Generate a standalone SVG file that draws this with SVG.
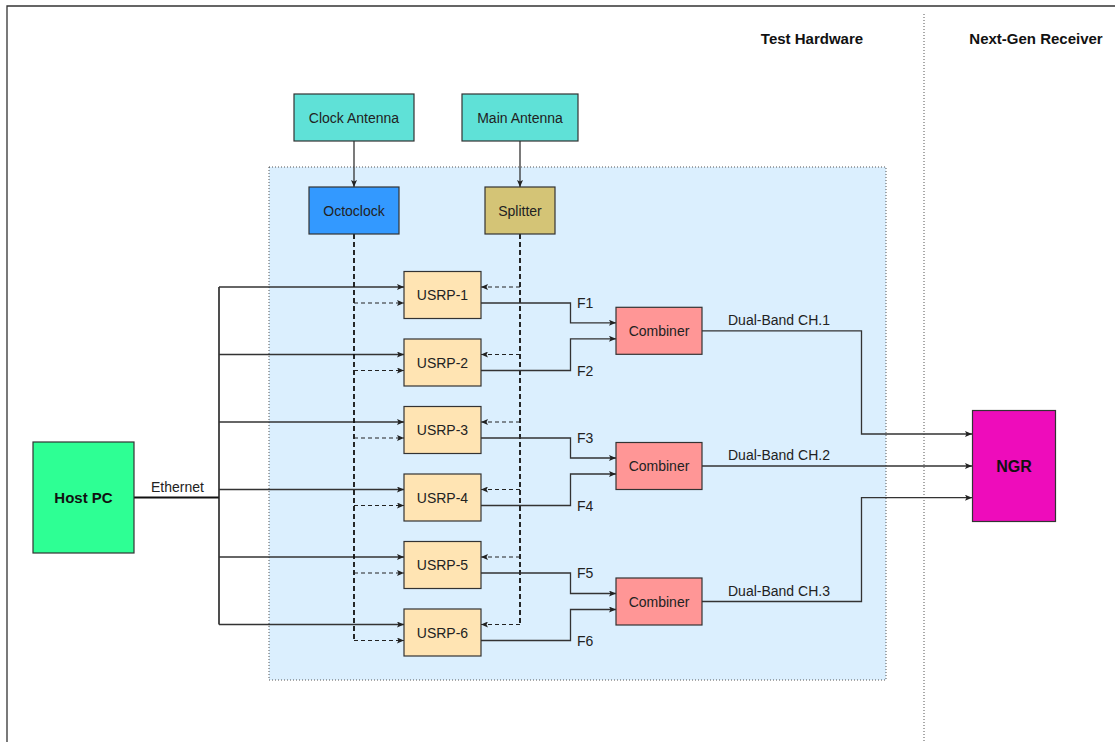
<svg xmlns="http://www.w3.org/2000/svg" width="1115" height="742" viewBox="0 0 1115 742">
<style>
.box{stroke:#333;stroke-width:1.2}
.t{font-family:"Liberation Sans",Arial,sans-serif;font-size:14px;fill:#222;text-anchor:middle}
.tl{font-family:"Liberation Sans",Arial,sans-serif;font-size:14px;fill:#222}
.b{font-family:"Liberation Sans",Arial,sans-serif;font-size:15px;font-weight:bold;fill:#111;text-anchor:middle}
.ln{fill:none;stroke:#333;stroke-width:1.3}
.ds{fill:none;stroke:#222;stroke-width:1.2;stroke-dasharray:4,3}
.dv{fill:none;stroke:#111;stroke-width:1.8;stroke-dasharray:5,3}
.dot{fill:none;stroke:#555;stroke-width:1;stroke-dasharray:1,2}
.region{fill:#dbeffe;stroke:#555;stroke-width:1;stroke-dasharray:1,2}
</style>
<defs>
<marker id="ar" markerUnits="userSpaceOnUse" markerWidth="8" markerHeight="6" refX="7" refY="3" orient="auto">
<path d="M0,0 L7,3 L0,6 L1.5,3 Z" fill="#222"/>
</marker>
</defs>
<rect width="1115" height="742" fill="#fff"/>
<path d="M7,742 L7,6 L1115,6" fill="none" stroke="#333" stroke-width="1.3"/>
<rect id="testbed" x="269" y="167" width="617" height="513" class="region"/>
<line x1="924" y1="14" x2="924" y2="742" class="dot"/>
<text class="b" x="812" y="44">Test Hardware</text>
<text class="b" x="1036" y="44">Next-Gen Receiver</text>

<g id="connectors">
<line class="ln" x1="354" y1="141" x2="354" y2="187" marker-end="url(#ar)"/>
<line class="ln" x1="520" y1="141" x2="520" y2="187" marker-end="url(#ar)"/>
<line x1="134" y1="497.5" x2="219" y2="497.5" stroke="#111" stroke-width="2"/>
<line x1="219" y1="287" x2="219" y2="624.5" stroke="#222" stroke-width="1.6"/>
<line class="ln" x1="219" y1="287" x2="404" y2="287" marker-end="url(#ar)"/>
<line class="ln" x1="219" y1="354.5" x2="404" y2="354.5" marker-end="url(#ar)"/>
<line class="ln" x1="219" y1="422" x2="404" y2="422" marker-end="url(#ar)"/>
<line class="ln" x1="219" y1="489.5" x2="404" y2="489.5" marker-end="url(#ar)"/>
<line class="ln" x1="219" y1="557" x2="404" y2="557" marker-end="url(#ar)"/>
<line class="ln" x1="219" y1="624.5" x2="404" y2="624.5" marker-end="url(#ar)"/>
<line class="dv" x1="354" y1="234" x2="354" y2="640.5"/>
<line class="ds" x1="354" y1="303" x2="404" y2="303" marker-end="url(#ar)"/>
<line class="ds" x1="354" y1="370.5" x2="404" y2="370.5" marker-end="url(#ar)"/>
<line class="ds" x1="354" y1="438" x2="404" y2="438" marker-end="url(#ar)"/>
<line class="ds" x1="354" y1="505.5" x2="404" y2="505.5" marker-end="url(#ar)"/>
<line class="ds" x1="354" y1="573" x2="404" y2="573" marker-end="url(#ar)"/>
<line class="ds" x1="354" y1="640.5" x2="404" y2="640.5" marker-end="url(#ar)"/>
<line class="dv" x1="520" y1="234" x2="520" y2="624.5"/>
<line class="ds" x1="520" y1="287" x2="481" y2="287" marker-end="url(#ar)"/>
<line class="ds" x1="520" y1="354.5" x2="481" y2="354.5" marker-end="url(#ar)"/>
<line class="ds" x1="520" y1="422" x2="481" y2="422" marker-end="url(#ar)"/>
<line class="ds" x1="520" y1="489.5" x2="481" y2="489.5" marker-end="url(#ar)"/>
<line class="ds" x1="520" y1="557" x2="481" y2="557" marker-end="url(#ar)"/>
<line class="ds" x1="520" y1="624.5" x2="481" y2="624.5" marker-end="url(#ar)"/>
<path class="ln" d="M481,303 H570.5 V322.8 H616" marker-end="url(#ar)"/>
<path class="ln" d="M481,370.5 H570.5 V338.8 H616" marker-end="url(#ar)"/>
<path class="ln" d="M481,438 H570.5 V458 H616" marker-end="url(#ar)"/>
<path class="ln" d="M481,505.5 H570.5 V474 H616" marker-end="url(#ar)"/>
<path class="ln" d="M481,573 H570.5 V593.5 H616" marker-end="url(#ar)"/>
<path class="ln" d="M481,640.5 H570.5 V609.5 H616" marker-end="url(#ar)"/>
<text class="tl" x="577" y="308">F1</text>
<text class="tl" x="577" y="375.5">F2</text>
<text class="tl" x="577" y="443">F3</text>
<text class="tl" x="577" y="510.5">F4</text>
<text class="tl" x="577" y="578">F5</text>
<text class="tl" x="577" y="645.5">F6</text>
<path class="ln" d="M702,330.8 H861.5 V434 H972" marker-end="url(#ar)"/>
<path class="ln" d="M702,466 H972" marker-end="url(#ar)"/>
<path class="ln" d="M702,601.5 H861.5 V497.7 H972" marker-end="url(#ar)"/>
<text class="tl" x="728" y="325">Dual-Band CH.1</text>
<text class="tl" x="728" y="460">Dual-Band CH.2</text>
<text class="tl" x="728" y="596">Dual-Band CH.3</text>
<text class="tl" x="151" y="492">Ethernet</text>
</g>

<g id="clock-antenna"><rect class="box" x="294" y="94" width="120" height="47" fill="#5fe1d7"/><text class="t" x="354" y="123">Clock Antenna</text></g>
<g id="main-antenna"><rect class="box" x="462" y="94" width="116" height="47" fill="#5fe1d7"/><text class="t" x="520" y="123">Main Antenna</text></g>
<g id="octoclock"><rect class="box" x="309" y="187" width="90" height="47" fill="#3399ff"/><text class="t" x="354" y="216">Octoclock</text></g>
<g id="splitter"><rect class="box" x="485" y="187" width="70" height="47" fill="#d4c476"/><text class="t" x="520" y="216">Splitter</text></g>

<g id="usrp1"><rect class="box" x="404" y="271.5" width="77" height="47" fill="#ffe4b3"/><text class="t" x="442.5" y="300">USRP-1</text></g>
<g id="usrp2"><rect class="box" x="404" y="339" width="77" height="47" fill="#ffe4b3"/><text class="t" x="442.5" y="367.5">USRP-2</text></g>
<g id="usrp3"><rect class="box" x="404" y="406.5" width="77" height="47" fill="#ffe4b3"/><text class="t" x="442.5" y="435">USRP-3</text></g>
<g id="usrp4"><rect class="box" x="404" y="474" width="77" height="47" fill="#ffe4b3"/><text class="t" x="442.5" y="502.5">USRP-4</text></g>
<g id="usrp5"><rect class="box" x="404" y="541.5" width="77" height="47" fill="#ffe4b3"/><text class="t" x="442.5" y="570">USRP-5</text></g>
<g id="usrp6"><rect class="box" x="404" y="609" width="77" height="47" fill="#ffe4b3"/><text class="t" x="442.5" y="637.5">USRP-6</text></g>

<g id="combiner1"><rect class="box" x="616" y="307.3" width="86" height="47" fill="#ff9696"/><text class="t" x="659" y="335.8">Combiner</text></g>
<g id="combiner2"><rect class="box" x="616" y="442.5" width="86" height="47" fill="#ff9696"/><text class="t" x="659" y="471">Combiner</text></g>
<g id="combiner3"><rect class="box" x="616" y="578" width="86" height="47" fill="#ff9696"/><text class="t" x="659" y="606.5">Combiner</text></g>

<g id="host-pc"><rect class="box" x="33" y="442" width="101" height="111" fill="#2eff94"/><text class="b" x="83.5" y="502.5">Host PC</text></g>
<g id="ngr"><rect class="box" x="972.5" y="410.5" width="83" height="111" fill="#ee0cbb"/><text class="b" x="1014" y="471.5" style="font-size:16px">NGR</text></g>
</svg>
